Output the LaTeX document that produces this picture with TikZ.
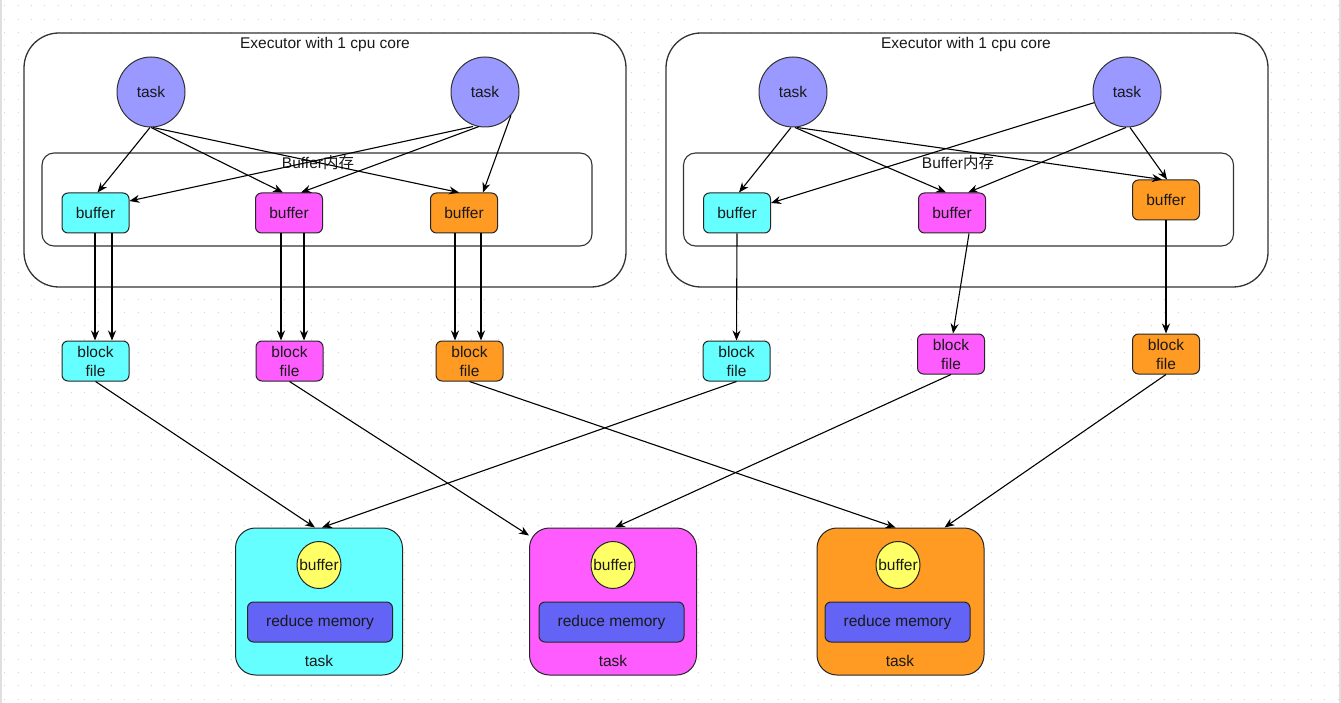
\documentclass[tikz,border=0pt]{standalone}
\usepackage{fontspec}
\setmainfont{Liberation Sans}
\newfontfamily\cjk{Noto Sans CJK SC}
\usetikzlibrary{shapes.geometric,arrows.meta,calc}
\definecolor{cyanF}{HTML}{66FFFF}
\definecolor{magF}{HTML}{FF5CFF}
\definecolor{oraF}{HTML}{FF9A22}
\definecolor{taskF}{HTML}{9999FF}
\definecolor{yelF}{HTML}{FFFF66}
\definecolor{redF}{HTML}{6363F5}
\definecolor{gridC}{HTML}{D4D4D4}
\newcommand\lbl{\fontsize{15.5}{19}\selectfont}
\begin{document}
\begin{tikzpicture}[x=1pt,y=-1pt,
 every node/.style={font=\lbl, text=black!90},
 exec/.style={draw=black!80, line width=1.3pt, fill=white, rounded corners=35pt, minimum width=602pt, minimum height=254pt, inner sep=0pt},
 mem/.style={draw=black!80, line width=1.1pt, fill=white, rounded corners=12pt, minimum width=550pt, minimum height=93pt, inner sep=0pt},
 taskc/.style={draw=black!80, line width=1pt, ellipse, fill=taskF, minimum width=68pt, minimum height=70pt, inner sep=0pt},
 buf/.style={draw=black!85, line width=1pt, rounded corners=6pt, minimum width=67pt, minimum height=40pt, inner sep=0pt, align=center},
 rtask/.style={draw=black!85, line width=1pt, rounded corners=20pt, minimum width=167pt, minimum height=147pt, inner sep=0pt},
 ybuf/.style={draw=black!85, line width=1pt, ellipse, fill=yelF, minimum width=44pt, minimum height=47pt, inner sep=0pt},
 rmem/.style={draw=black!85, line width=1pt, rounded corners=6pt, fill=redF, minimum width=145pt, minimum height=40pt, inner sep=0pt},
 arr/.style={draw=black, line width=1.1pt, -{Stealth[length=10pt,width=8pt]}},
 griddot/.style={draw=gridC, line width=1pt, dash pattern=on 1pt off 12.333pt, dash phase=9pt}
]
\useasboundingbox (0,0) rectangle (1341,703);
\fill[white] (0,0) rectangle (1341,703);
% dotted grid
\foreach \r in {0,...,52} { \draw[griddot] (0,{6+\r*13.333}) -- (1341,{6+\r*13.333}); }
\draw[gray!25, line width=2pt] (1,0) -- (1,703);
\draw[gray!25, line width=2pt] (1339.5,0) -- (1339.5,703);

% ---------- Executor 1 ----------
\node[exec] (ex1) at (325,160) {};
\node (ex1t) at (325,44) {Executor with 1 cpu core};
\node[mem] (mem1) at (317,199.5) {};
\node (mem1t) at (318,163) {Buffer{\cjk 内存}};
\node[taskc] (tk1) at (151,92) {task};
\node[taskc] (tk2) at (485,92) {task};
\node[buf, fill=cyanF] (bc1) at (95.5,213) {buffer};
\node[buf, fill=magF] (bm1) at (289,213) {buffer};
\node[buf, fill=oraF] (bo1) at (464,213) {buffer};

% ---------- Executor 2 ----------
\node[exec] (ex2) at (967,160) {};
\node (ex2t) at (966,44) {Executor with 1 cpu core};
\node[mem] (mem2) at (958.5,199.5) {};
\node (mem2t) at (958,163) {Buffer{\cjk 内存}};
\node[taskc] (tk3) at (793,92) {task};
\node[taskc] (tk4) at (1127,92) {task};
\node[buf, fill=cyanF] (bc2) at (737,213) {buffer};
\node[buf, fill=magF] (bm2) at (952,213) {buffer};
\node[buf, fill=oraF] (bo2) at (1166,200) {buffer};

% ---------- block files ----------
\node[buf, fill=cyanF] (fc1) at (95.5,361) {block\\file};
\node[buf, fill=magF] (fm1) at (289.5,361) {block\\file};
\node[buf, fill=oraF] (fo1) at (469.5,361) {block\\file};
\node[buf, fill=cyanF] (fc2) at (736.5,361) {block\\file};
\node[buf, fill=magF] (fm2) at (951,354) {block\\file};
\node[buf, fill=oraF] (fo2) at (1166,354) {block\\file};

% ---------- reduce tasks ----------
\node[rtask, fill=cyanF] (tkc) at (319,601.5) {};
\node[ybuf] (yc) at (319,565) {};
\node (ycl) at (319,565) {buffer};
\node[rmem] (rc) at (320,622) {reduce memory};
\node (lc) at (319,661) {task};

\node[rtask, fill=magF] (tkm) at (613,601.5) {};
\node[ybuf] (ym) at (613,565) {};
\node (yml) at (613,565) {buffer};
\node[rmem] (rm) at (611.5,622) {reduce memory};
\node (lm) at (613,661) {task};

\node[rtask, fill=oraF] (tko) at (900.5,601.5) {};
\node[ybuf] (yo) at (898,565) {};
\node (yol) at (898,565) {buffer};
\node[rmem] (ro) at (897.5,622) {reduce memory};
\node (lo) at (900,661) {task};

% ---------- task -> buffer arrows, executor 1 ----------
\draw[arr] ([xshift=-1pt]tk1.south) -- ([xshift=2pt]bc1.north);
\draw[arr] (tk1.south) -- ([xshift=-6pt]bm1.north);
\draw[arr] ([xshift=2pt]tk1.south) -- ([xshift=-5pt]bo1.north);
\draw[arr] ([xshift=-12pt,yshift=1pt]tk2.south) -- ([yshift=12pt]bc1.east);
\draw[arr] ([xshift=-6pt,yshift=1pt]tk2.south) -- ([xshift=12pt]bm1.north);
\draw[arr] (tk2.-42) -- ([xshift=19pt]bo1.north);

% ---------- task -> buffer arrows, executor 2 ----------
\draw[arr] ([xshift=-2pt]tk3.south) -- ([xshift=2pt]bc2.north);
\draw[arr] ([xshift=2pt]tk3.south) -- ([xshift=-6pt]bm2.north);
\draw[arr] ([xshift=4pt]tk3.south) -- ([xshift=-4pt]bo2.north);
\draw[arr] (tk4.198) -- ([yshift=10pt]bc2.east);
\draw[arr] ([xshift=-1pt]tk4.south) -- ([xshift=16pt]bm2.north);
\draw[arr] ([xshift=3pt]tk4.south) -- ([xshift=1pt]bo2.north);

% ---------- buffer -> block file ----------
\path ([xshift=-0.5pt]bc1.south) coordinate (c1a) ([xshift=16.5pt]bc1.south) coordinate (c1b);
\path ([xshift=-8pt]bm1.south) coordinate (m1a) ([xshift=15pt]bm1.south) coordinate (m1b);
\path ([xshift=-9pt]bo1.south) coordinate (o1a) ([xshift=17pt]bo1.south) coordinate (o1b);
\draw[arr] (c1a) -- (c1a |- fc1.north);
\draw[arr] (c1b) -- (c1b |- fc1.north);
\draw[arr] (m1a) -- (m1a |- fm1.north);
\draw[arr] (m1b) -- (m1b |- fm1.north);
\draw[arr] (o1a) -- (o1a |- fo1.north);
\draw[arr] (o1b) -- (o1b |- fo1.north);
\draw[arr] (bc2.south) -- (fc2.north);
\draw[arr] ([xshift=17pt]bm2.south) -- ([xshift=2pt]fm2.north);
\draw[arr] (bo2.south) -- (fo2.north);

% ---------- block file -> reduce tasks ----------
\draw[arr] (fc1.south) -- ([xshift=-4pt]tkc.north);
\draw[arr] (fc2.south) -- ([xshift=3pt]tkc.north);
\draw[arr] (fm1.south) -- ([yshift=-8pt]tkm.north west);
\draw[arr] (fm2.south) -- ([xshift=2pt]tkm.north);
\draw[arr] (fo1.south) -- ([xshift=-5pt]tko.north);
\draw[arr] (fo2.south) -- ([xshift=44pt]tko.north);
\end{tikzpicture}
\end{document}
